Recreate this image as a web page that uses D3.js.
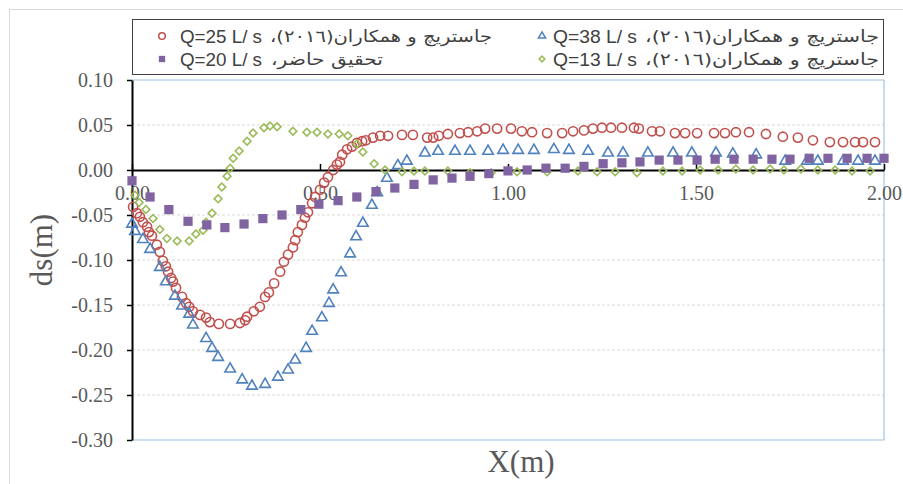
<!DOCTYPE html>
<html><head><meta charset="utf-8">
<script src="https://cdn.jsdelivr.net/npm/d3@7"></script>
<style>body{margin:0;background:#fff}svg{display:block}</style>
</head><body>
<svg id="c" width="903" height="484"></svg>
<script>
// ---- data ----
const redX = [0.003,0.013,0.021,0.029,0.040,0.045,0.053,0.066,0.074,0.082,0.090,0.096,0.104,0.109,0.117,0.133,0.144,0.152,0.162,0.181,0.197,0.207,0.231,0.261,0.287,0.301,0.306,0.324,0.340,0.354,0.364,0.378,0.394,0.404,0.415,0.428,0.434,0.441,0.452,0.460,0.468,0.479,0.487,0.500,0.511,0.521,0.535,0.545,0.553,0.559,0.572,0.585,0.598,0.612,0.622,0.641,0.660,0.681,0.718,0.747,0.785,0.801,0.816,0.840,0.872,0.894,0.918,0.939,0.971,1.008,1.037,1.064,1.104,1.144,1.173,1.202,1.226,1.250,1.274,1.303,1.335,1.348,1.383,1.404,1.444,1.471,1.503,1.548,1.577,1.606,1.641,1.686,1.731,1.771,1.811,1.856,1.891,1.923,1.944,1.976];
const redY = [-0.041,-0.048,-0.052,-0.058,-0.063,-0.069,-0.073,-0.083,-0.091,-0.101,-0.107,-0.113,-0.120,-0.124,-0.131,-0.141,-0.148,-0.152,-0.157,-0.161,-0.164,-0.169,-0.171,-0.171,-0.170,-0.167,-0.163,-0.157,-0.152,-0.141,-0.136,-0.126,-0.113,-0.102,-0.094,-0.086,-0.078,-0.069,-0.061,-0.053,-0.047,-0.037,-0.030,-0.022,-0.014,-0.008,0.000,0.006,0.009,0.017,0.023,0.026,0.030,0.032,0.033,0.036,0.038,0.038,0.039,0.039,0.036,0.036,0.038,0.040,0.041,0.042,0.043,0.046,0.046,0.046,0.043,0.042,0.041,0.041,0.043,0.044,0.046,0.047,0.047,0.047,0.047,0.046,0.043,0.043,0.041,0.041,0.041,0.041,0.041,0.042,0.042,0.040,0.037,0.036,0.033,0.031,0.031,0.031,0.031,0.031];

const blueX = [0.000,0.008,0.029,0.048,0.074,0.090,0.114,0.133,0.152,0.162,0.197,0.213,0.229,0.261,0.293,0.319,0.354,0.388,0.415,0.434,0.463,0.479,0.505,0.524,0.535,0.556,0.580,0.596,0.614,0.638,0.652,0.678,0.707,0.731,0.779,0.814,0.859,0.899,0.947,0.987,1.027,1.069,1.122,1.162,1.213,1.266,1.306,1.372,1.439,1.489,1.553,1.598,1.660,1.737,1.795,1.824,1.891,1.931,1.976];
const blueY = [-0.059,-0.067,-0.076,-0.087,-0.107,-0.123,-0.139,-0.150,-0.159,-0.171,-0.186,-0.197,-0.207,-0.220,-0.232,-0.239,-0.237,-0.229,-0.221,-0.210,-0.197,-0.178,-0.163,-0.147,-0.132,-0.113,-0.092,-0.073,-0.058,-0.038,-0.024,-0.008,0.006,0.011,0.020,0.022,0.022,0.022,0.022,0.023,0.023,0.023,0.024,0.023,0.022,0.020,0.020,0.020,0.020,0.020,0.020,0.019,0.018,0.011,0.011,0.011,0.011,0.011,0.011];

const greenX = [0.008,0.019,0.037,0.056,0.074,0.093,0.120,0.152,0.170,0.189,0.197,0.213,0.229,0.239,0.253,0.261,0.269,0.285,0.306,0.322,0.351,0.367,0.386,0.428,0.465,0.492,0.521,0.551,0.574,0.598,0.614,0.644,0.673,0.718,0.750,0.779,0.840,0.899,0.955,1.024,1.104,1.186,1.237,1.285,1.343,1.412,1.463,1.511,1.559,1.606,1.652,1.697,1.734,1.779,1.824,1.870,1.915,1.963];
const greenY = [-0.028,-0.036,-0.044,-0.054,-0.066,-0.076,-0.079,-0.079,-0.071,-0.067,-0.058,-0.048,-0.032,-0.019,-0.007,0.002,0.013,0.021,0.032,0.041,0.047,0.049,0.048,0.043,0.042,0.042,0.040,0.040,0.038,0.029,0.020,0.007,0.000,-0.002,-0.001,-0.001,-0.001,-0.003,-0.003,-0.002,-0.002,-0.001,-0.002,-0.002,-0.003,-0.001,-0.001,0.000,0.000,0.001,0.000,0.001,0.000,0.001,0.000,0.000,-0.001,-0.001];

const purpleX = [0.000,0.048,0.098,0.149,0.199,0.247,0.298,0.348,0.399,0.449,0.497,0.548,0.598,0.649,0.699,0.750,0.801,0.851,0.899,0.949,1.000,1.051,1.101,1.152,1.202,1.253,1.303,1.351,1.402,1.452,1.503,1.551,1.601,1.652,1.702,1.750,1.801,1.851,1.902,1.955,2.000];
const purpleY = [-0.012,-0.030,-0.044,-0.057,-0.061,-0.064,-0.060,-0.054,-0.050,-0.044,-0.038,-0.034,-0.030,-0.024,-0.020,-0.016,-0.011,-0.009,-0.007,-0.004,-0.001,0.000,0.002,0.002,0.004,0.007,0.008,0.009,0.011,0.011,0.011,0.012,0.012,0.012,0.012,0.012,0.013,0.013,0.013,0.013,0.013];

const xTicks = [0, 0.5, 1.0, 1.5, 2.0];
const yTicks = [0.10, 0.05, 0.00, -0.05, -0.10, -0.15, -0.20, -0.25, -0.30];
const legendLatin = ["Q=25 L/ s", "Q=38 L/ s", "Q=20 L/ s", "Q=13 L/ s"];
const legendPersian = ["جاستریچ و همکاران(٢٠١٦)،", "جاستریچ و همکاران(٢٠١٦)،", "تحقیق حاضر،", "جاستریچ و همکاران(٢٠١٦)،"];
const xTitle = "X(m)";
const yTitle = "ds(m)";

// ---- drawing ----
const svg = d3.select("#c");
const L = 132, R = 884, T = 80, B = 440;
const x = d3.scaleLinear().domain([0, 2]).range([L, R]);
const y = d3.scaleLinear().domain([-0.3, 0.1]).range([B, T]);

svg.append("rect").attr("x", 9.5).attr("y", 9.5).attr("width", 920).attr("height", 500)
  .attr("fill", "#fff").attr("stroke", "#d9d9d9").attr("stroke-width", 1);

// gridlines
svg.append("g").selectAll("line").data(yTicks.filter(v => Math.abs(v) > 1e-9 && v > -0.29 && v < 0.09))
  .join("line").attr("x1", L).attr("x2", R).attr("y1", d => y(d)).attr("y2", d => y(d))
  .attr("stroke", "#d9d9d9").attr("stroke-dasharray", "3,2").attr("stroke-width", 1);

// plot border (light blue)
svg.append("path").attr("d", `M${L},${T}H${R}V${B}H${L}`).attr("fill", "none")
  .attr("stroke", "#9dc3e6").attr("stroke-width", 1.2);

// y axis
const yAx = svg.append("g").attr("transform", `translate(${L},0)`)
  .call(d3.axisLeft(y).tickValues(yTicks).tickSize(5).tickSizeOuter(0).tickPadding(14).tickFormat(d3.format(".2f")));
yAx.select(".domain").attr("stroke", "#000").attr("stroke-width", 2);
yAx.selectAll(".tick line").attr("stroke", "#000").attr("stroke-width", 1.5);
yAx.selectAll("text").attr("font-family", "Liberation Serif").attr("font-size", 20).attr("fill", "#595959")
  .text(d => d3.format(".2f")(d).replace("−", "-"));

// x axis at y=0
const xAx = svg.append("g").attr("transform", `translate(0,${y(0)})`)
  .call(d3.axisBottom(x).tickValues(xTicks).tickSize(-6).tickSizeOuter(0).tickPadding(16).tickFormat(d3.format(".2f")));
xAx.select(".domain").attr("stroke", "#000").attr("stroke-width", 1.8);
xAx.selectAll(".tick line").attr("stroke", "#000").attr("stroke-width", 1.5);
xAx.selectAll("text").attr("font-family", "Liberation Serif").attr("font-size", 20).attr("fill", "#595959");

// titles
svg.append("text").attr("x", 521).attr("y", 472).attr("text-anchor", "middle")
  .attr("font-family", "Liberation Serif").attr("font-size", 31).attr("fill", "#595959").text(xTitle);
svg.append("text").attr("transform", "translate(52,250) rotate(-90)").attr("text-anchor", "middle")
  .attr("font-family", "Liberation Serif").attr("font-size", 31).attr("fill", "#595959").text(yTitle);

// markers
function pts(xs, ys) { return xs.map((v, i) => [v, ys[i]]); }
const g = svg.append("g");
g.selectAll(".r").data(pts(redX, redY)).join("circle").attr("cx", d => x(d[0])).attr("cy", d => y(d[1]))
  .attr("r", 4.6).attr("fill", "none").attr("stroke", "#C0504D").attr("stroke-width", 1.6);
const tri = d3.symbol(d3.symbolTriangle, 48)();
g.selectAll(".b").data(pts(blueX, blueY)).join("path").attr("d", tri)
  .attr("transform", d => `translate(${x(d[0])},${y(d[1]) + 1})`)
  .attr("fill", "none").attr("stroke", "#4F81BD").attr("stroke-width", 1.6);
const dia = d3.symbol(d3.symbolSquare, 30)();
g.selectAll(".g").data(pts(greenX, greenY)).join("path").attr("d", dia)
  .attr("transform", d => `translate(${x(d[0])},${y(d[1])}) rotate(45)`)
  .attr("fill", "none").attr("stroke", "#9BBB59").attr("stroke-width", 1.6);
const sq = d3.symbol(d3.symbolSquare, 85)();
g.selectAll(".p").data(pts(purpleX, purpleY)).join("path").attr("d", sq)
  .attr("transform", d => `translate(${x(d[0])},${y(d[1])})`).attr("fill", "#8064A2");

// legend
svg.append("rect").attr("x", 132.5).attr("y", 19.5).attr("width", 751).attr("height", 55)
  .attr("fill", "#fff").attr("stroke", "#404040").attr("stroke-width", 1);
const legendPos = [
  {mx: 162, ty: 36, lx: 180, lw: 82, pr: 492, pw: 222},
  {mx: 542, ty: 36, lx: 553, lw: 84, pr: 879, pw: 234},
  {mx: 162, ty: 59, lx: 180, lw: 82, pr: 383, pw: 112},
  {mx: 542, ty: 59, lx: 553, lw: 84, pr: 879, pw: 234}
];
const lg = svg.append("g");
legendPos.forEach((p, i) => {
  if (i === 0) lg.append("circle").attr("cx", p.mx).attr("cy", p.ty).attr("r", 3.3).attr("fill", "none").attr("stroke", "#C0504D").attr("stroke-width", 1.5);
  if (i === 1) lg.append("path").attr("d", d3.symbol(d3.symbolTriangle, 22)()).attr("transform", `translate(${p.mx},${p.ty})`).attr("fill", "none").attr("stroke", "#4F81BD").attr("stroke-width", 1.5);
  if (i === 2) lg.append("path").attr("d", d3.symbol(d3.symbolSquare, 40)()).attr("transform", `translate(${p.mx},${p.ty})`).attr("fill", "#8064A2");
  if (i === 3) lg.append("path").attr("d", d3.symbol(d3.symbolSquare, 16)()).attr("transform", `translate(${p.mx},${p.ty}) rotate(45)`).attr("fill", "none").attr("stroke", "#9BBB59").attr("stroke-width", 1.5);
  lg.append("text").attr("x", p.lx).attr("y", p.ty + 6.5).attr("font-family", "Liberation Sans").attr("font-size", 18)
    .attr("fill", "#404040").attr("textLength", p.lw).attr("lengthAdjust", "spacingAndGlyphs").text(legendLatin[i]);
  lg.append("text").attr("x", p.pr).attr("y", p.ty + 6).attr("direction", "rtl").attr("text-anchor", "start")
    .attr("font-family", "DejaVu Sans").attr("font-size", 16.5).attr("fill", "#404040")
    .attr("textLength", p.pw).attr("lengthAdjust", "spacingAndGlyphs").text(legendPersian[i]);
});
</script>
</body></html>
